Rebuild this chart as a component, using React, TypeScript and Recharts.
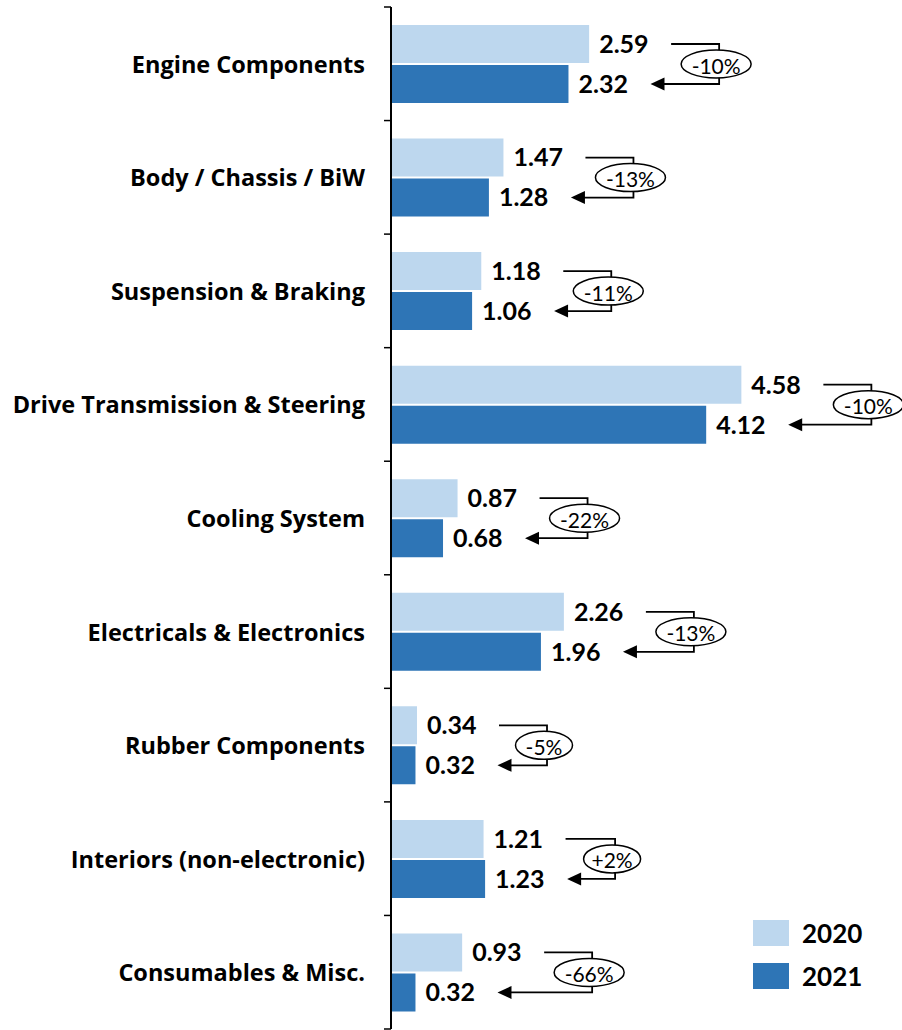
import { BarChart, Bar, XAxis, YAxis, LabelList } from 'recharts';

const CATEGORIES = [
  'Engine Components',
  'Body / Chassis / BiW',
  'Suspension & Braking',
  'Drive Transmission & Steering',
  'Cooling System',
  'Electricals & Electronics',
  'Rubber Components',
  'Interiors (non-electronic)',
  'Consumables & Misc.',
];
const VALUES_2020 = [2.59, 1.47, 1.18, 4.58, 0.87, 2.26, 0.34, 1.21, 0.93];
const VALUES_2021 = [2.32, 1.28, 1.06, 4.12, 0.68, 1.96, 0.32, 1.23, 0.32];
const CHANGE_LABELS = ['-10%', '-13%', '-11%', '-10%', '-22%', '-13%', '-5%', '+2%', '-66%'];

const SERIES = [
  { key: 'y2020', name: '2020', color: '#BDD7EE' },
  { key: 'y2021', name: '2021', color: '#2E75B6' },
];

const FONT = "Lato, 'Noto Sans', sans-serif";
const CAT_FONT = "'Open Sans', Lato, sans-serif";
const TICK_SIZE = 7;
const TICK_MARGIN = 19;
const BAR_GAP = 2;

const data = CATEGORIES.map((name, i) => ({
  name,
  y2020: VALUES_2020[i],
  y2021: VALUES_2021[i],
  change: CHANGE_LABELS[i],
}));

const valueStyle = { fontFamily: FONT, fontWeight: 700, fontSize: 25, fill: '#000' };

function CategoryTick(props: any) {
  const { x, y, payload, index } = props;
  const half = payload?.offset ?? 57;
  const axisX = x + TICK_SIZE + TICK_MARGIN;
  const last = index === CATEGORIES.length - 1;
  return (
    <g>
      <line x1={axisX - TICK_SIZE} x2={axisX} y1={y - half} y2={y - half} stroke="#000" strokeWidth={1.5} />
      {last && (
        <line x1={axisX - TICK_SIZE} x2={axisX} y1={y + half} y2={y + half} stroke="#000" strokeWidth={1.5} />
      )}
      <text
        x={x}
        y={y}
        textAnchor="end"
        dominantBaseline="central"
        style={{ fontFamily: CAT_FONT, fontWeight: 700, fontSize: 23.5, fill: '#000' }}
      >
        {payload.value}
      </text>
    </g>
  );
}

// bracket + arrow from the 2020 label to the 2021 label, with the % change bubble
function ChangeConnector(props: any) {
  const vb = props.viewBox ?? props;
  const { x, y, width, height } = vb;
  const index = props.index;
  if (x == null || index == null) return null;
  const ratio = VALUES_2020[index] / VALUES_2021[index];
  const end1 = x + width * ratio;
  const end2 = x + width;
  const y1 = y - BAR_GAP - height / 2;
  const y2 = y + height / 2;
  const start = end1 + 82;
  const tip = end2 + 82;
  const vx = Math.max(end1, end2) + 130;
  const label = String(props.value ?? CHANGE_LABELS[index]);
  const rx = 9 + label.length * 6.5;
  const cy = (y1 + y2) / 2;
  return (
    <g>
      <path d={`M${start},${y1} H${vx} V${y2} H${tip + 12}`} fill="none" stroke="#000" strokeWidth={1.8} />
      <polygon points={`${tip},${y2} ${tip + 14},${y2 - 6.5} ${tip + 14},${y2 + 6.5}`} fill="#000" />
      <ellipse cx={vx - 3} cy={cy} rx={rx} ry={14} fill="#fff" stroke="#000" strokeWidth={1.5} />
      <text
        x={vx - 3}
        y={cy + 1}
        textAnchor="middle"
        dominantBaseline="central"
        style={{ fontFamily: FONT, fontSize: 21, fill: '#000' }}
      >
        {label}
      </text>
    </g>
  );
}

export default function App() {
  return (
    <div style={{ position: 'absolute', left: 0, top: 0, width: 902, height: 1030, overflow: 'hidden', background: '#fff' }}>
      <BarChart
        width={902}
        height={1030}
        data={data}
        layout="vertical"
        margin={{ top: 7, right: 52, bottom: 1, left: 0 }}
        barCategoryGap={18}
        barGap={BAR_GAP}
      >
        <XAxis type="number" hide domain={[0, 6]} />
        <YAxis
          type="category"
          dataKey="name"
          width={391}
          interval={0}
          axisLine={{ stroke: '#000', strokeWidth: 2 }}
          tickLine={false}
          tickSize={TICK_SIZE}
          tickMargin={TICK_MARGIN}
          tick={<CategoryTick />}
        />
        <Bar dataKey="y2020" fill={SERIES[0].color} isAnimationActive={false}>
          <LabelList
            dataKey="y2020"
            position="right"
            offset={10}
            style={valueStyle}
            formatter={(v: any) => Number(v).toFixed(2)}
          />
        </Bar>
        <Bar dataKey="y2021" fill={SERIES[1].color} isAnimationActive={false}>
          <LabelList
            dataKey="y2021"
            position="right"
            offset={10}
            style={valueStyle}
            formatter={(v: any) => Number(v).toFixed(2)}
          />
          <LabelList dataKey="change" content={<ChangeConnector />} />
        </Bar>
      </BarChart>
      <div style={{ position: 'absolute', left: 753, top: 920, fontFamily: FONT }}>
        {SERIES.map((s) => (
          <div key={s.key} style={{ display: 'flex', alignItems: 'center', height: 26, marginBottom: 17 }}>
            <div style={{ width: 36, height: 26, background: s.color }} />
            <span style={{ marginLeft: 13, fontSize: 26, fontWeight: 700, color: '#000' }}>{s.name}</span>
          </div>
        ))}
      </div>
    </div>
  );
}
